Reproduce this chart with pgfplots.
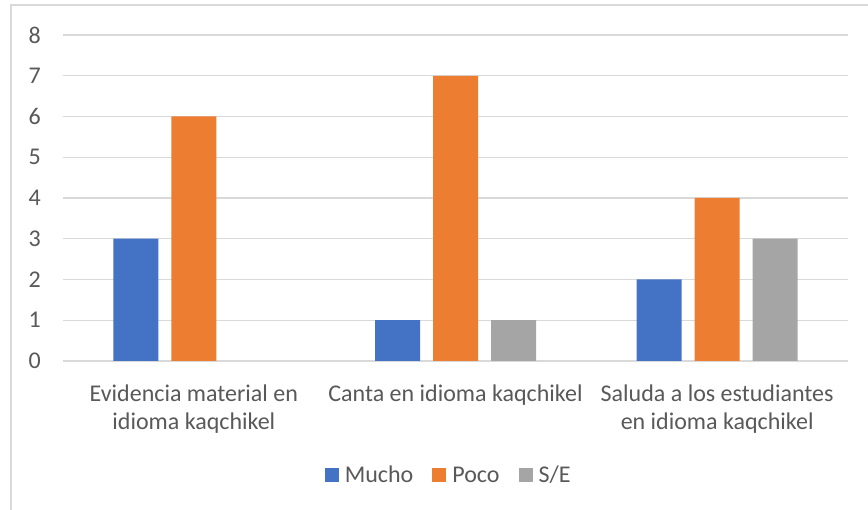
\documentclass[border=0pt]{standalone}
\usepackage{fontspec}
\setmainfont{Carlito}
\usepackage{pgfplots}
\pgfplotsset{compat=1.18}
\definecolor{cmucho}{HTML}{4472C4}
\definecolor{cpoco}{HTML}{ED7D31}
\definecolor{cse}{HTML}{A5A5A5}
\definecolor{cgrid}{HTML}{D9D9D9}
\definecolor{ctext}{HTML}{595959}
\begin{document}
\begin{tikzpicture}[x=1pt,y=1pt]
\useasboundingbox (0pt,0pt) rectangle (868pt,510pt);
\fill[white] (0pt,0pt) rectangle (868pt,510pt);
\draw[cgrid, line width=1.5pt] (11pt,0pt) -- (11pt,505pt) -- (868pt,505pt);
\begin{axis}[
  at={(63pt,149pt)}, anchor=south west,
  scale only axis, width=785pt, height=326pt,
  ybar=13pt, bar width=45pt,
  xmin=-0.5, xmax=2.5, ymin=0, ymax=8,
  enlargelimits=false,
  xtick={0,1,2},
  xticklabels={{Evidencia material en\\idioma kaqchikel},{Canta en idioma kaqchikel},{Saluda a los estudiantes\\en idioma kaqchikel}},
  ytick={0,1,2,3,4,5,6,7,8},
  major tick length=0pt,
  axis lines*=left,
  y axis line style={draw=none},
  x axis line style={cgrid, line width=1.3pt, -},
  ymajorgrids, grid style={cgrid, line width=1.3pt},
  tick label style={font=\fontsize{24}{28}\selectfont, text=ctext},
  xticklabel style={align=center, anchor=north, inner sep=0pt, yshift=-24pt},
  yticklabel style={anchor=east, inner sep=0pt, xshift=-22pt},
  /pgf/number format/assume math mode=true,
  legend style={at={(0.49,-0.35)}, anchor=center, draw=none, fill=none,
    legend columns=-1, font=\fontsize{24}{28}\selectfont, text=ctext,
    /tikz/every even column/.append style={column sep=19pt},
    nodes={inner sep=0pt}},
  legend image code/.code={\fill[#1] (0pt,-7pt) rectangle (14pt,7pt); \path (20pt,0pt);},
]
\addplot[fill=cmucho, draw=none] coordinates {(0,3) (1,1) (2,2)};
\addplot[fill=cpoco, draw=none] coordinates {(0,6) (1,7) (2,4)};
\addplot[fill=cse, draw=none] coordinates {(1,1) (2,3)};
\legend{Mucho,Poco,S/E}
\end{axis}
\end{tikzpicture}
\end{document}
